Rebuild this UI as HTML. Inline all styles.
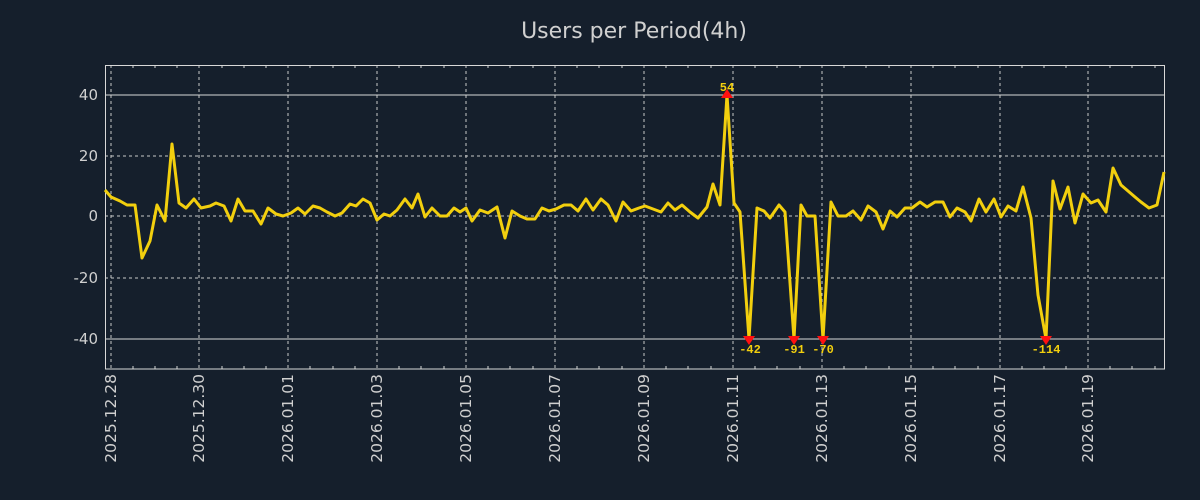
<!DOCTYPE html>
<html><head><meta charset="utf-8"><style>
html,body{margin:0;padding:0;background:#151f2c;}
svg{display:block}
</style></head><body>
<svg width="1200" height="500" xmlns="http://www.w3.org/2000/svg">
<rect width="1200" height="500" fill="#151f2c"/>
<text x="634" y="38" text-anchor="middle" font-family="DejaVu Sans, sans-serif" font-size="22" fill="#d0d0d0">Users per Period(4h)</text>
<g stroke="#c8c8c8" stroke-width="1" stroke-dasharray="3,3" fill="none">
<line x1="111" y1="65" x2="111" y2="369"/><line x1="199" y1="65" x2="199" y2="369"/><line x1="288" y1="65" x2="288" y2="369"/><line x1="377" y1="65" x2="377" y2="369"/><line x1="466" y1="65" x2="466" y2="369"/><line x1="555" y1="65" x2="555" y2="369"/><line x1="644" y1="65" x2="644" y2="369"/><line x1="733" y1="65" x2="733" y2="369"/><line x1="822" y1="65" x2="822" y2="369"/><line x1="911" y1="65" x2="911" y2="369"/><line x1="1000" y1="65" x2="1000" y2="369"/><line x1="1088" y1="65" x2="1088" y2="369"/>
<line x1="105" y1="156" x2="1164" y2="156"/><line x1="105" y1="216" x2="1164" y2="216"/><line x1="105" y1="278" x2="1164" y2="278"/>
</g>
<g stroke="#d8d8d8" stroke-width="1">
<line x1="105" y1="95" x2="1164" y2="95"/><line x1="105" y1="339" x2="1164" y2="339"/>
</g>
<g stroke="#d8d8d8" stroke-width="1" id="minor">
<path d="M133,369v-3M155,369v-3M177,369v-3M222,369v-3M244,369v-3M266,369v-3M310,369v-3M333,369v-3M355,369v-3M399,369v-3M421,369v-3M444,369v-3M488,369v-3M510,369v-3M533,369v-3M577,369v-3M599,369v-3M622,369v-3M666,369v-3M688,369v-3M711,369v-3M755,369v-3M777,369v-3M800,369v-3M844,369v-3M866,369v-3M889,369v-3M933,369v-3M955,369v-3M978,369v-3M1022,369v-3M1044,369v-3M1066,369v-3M1110,369v-3M1132,369v-3M1155,369v-3"/>
<path d="M133,65v3M155,65v3M177,65v3M222,65v3M244,65v3M266,65v3M310,65v3M333,65v3M355,65v3M399,65v3M421,65v3M444,65v3M488,65v3M510,65v3M533,65v3M577,65v3M599,65v3M622,65v3M666,65v3M688,65v3M711,65v3M755,65v3M777,65v3M800,65v3M844,65v3M866,65v3M889,65v3M933,65v3M955,65v3M978,65v3M1022,65v3M1044,65v3M1066,65v3M1110,65v3M1132,65v3M1155,65v3"/>
</g>
<rect x="105.5" y="65.5" width="1059" height="303.5" fill="none" stroke="#d8d8d8" stroke-width="1"/>
<g font-family="DejaVu Sans, sans-serif" font-size="15" fill="#d0d0d0" text-anchor="end">
<text x="98" y="100">40</text><text x="98" y="161">20</text><text x="98" y="221">0</text><text x="98" y="283">-20</text><text x="98" y="344">-40</text>
</g>
<g font-family="DejaVu Sans, sans-serif" font-size="15.5" fill="#d0d0d0" text-anchor="end">
<text transform="translate(116,374) rotate(-90)">2025.12.28</text>
<text transform="translate(204,374) rotate(-90)">2025.12.30</text>
<text transform="translate(293,374) rotate(-90)">2026.01.01</text>
<text transform="translate(382,374) rotate(-90)">2026.01.03</text>
<text transform="translate(471,374) rotate(-90)">2026.01.05</text>
<text transform="translate(560,374) rotate(-90)">2026.01.07</text>
<text transform="translate(649,374) rotate(-90)">2026.01.09</text>
<text transform="translate(738,374) rotate(-90)">2026.01.11</text>
<text transform="translate(827,374) rotate(-90)">2026.01.13</text>
<text transform="translate(916,374) rotate(-90)">2026.01.15</text>
<text transform="translate(1005,374) rotate(-90)">2026.01.17</text>
<text transform="translate(1093,374) rotate(-90)">2026.01.19</text>
</g>
<polyline fill="none" stroke="#f2cf0e" stroke-width="3" stroke-linejoin="round" points="105,190 111,197 120,201 127,205 135,205 142,258 150,241 157,205 165,221 172,144 179,203 186,208 194,199 201,208 210,206 216,203 224,206 231,221 238,199 245,211 253,211 261,224 268,208 276,214 283,216 291,213 298,208 305,214 313,206 320,208 327,212 335,216 342,213 350,204 356,206 363,199 370,203 377,220 384,214 390,216 397,210 405,199 412,208 418,194 425,217 432,208 440,216 447,216 454,208 460,212 466,208 472,221 480,210 488,213 497,207 505,238 512,211 520,216 527,219 535,219 542,208 549,211 556,209 564,205 571,205 578,211 586,199 593,210 601,199 608,205 616,221 623,202 631,211 639,208 645,206 653,209 661,212 668,203 675,210 682,205 690,212 698,218 707,207 713,184 720,205 727,95 734,203 740,212 749,339 757,208 764,211 770,218 779,205 785,212 794,339 801,205 807,216 815,216 823,339 831,202 838,216 846,216 853,211 861,220 868,206 876,212 883,229 890,211 897,217 905,208 912,208 920,202 927,207 935,202 943,202 950,217 957,208 965,212 971,221 979,199 986,212 994,199 1001,217 1008,206 1016,211 1023,187 1031,218 1038,295 1046,339 1053,181 1060,209 1068,187 1075,223 1083,194 1091,203 1098,200 1106,212 1113,168 1121,185 1128,191 1135,197 1141,202 1149,208 1157,205 1164,172"/>
<g fill="#ff1010">
<polygon points="721,98 733,98 727,89"/>
<polygon points="743,336 755,336 749,345"/>
<polygon points="788,336 800,336 794,345"/>
<polygon points="817,336 829,336 823,345"/>
<polygon points="1040,336 1052,336 1046,345"/>
</g>
<g font-family="Liberation Mono, monospace" font-weight="bold" font-size="12" fill="#f2cf0e" text-anchor="middle">
<text x="727" y="91">54</text>
<text x="750" y="353">-42</text>
<text x="794" y="353">-91</text>
<text x="823" y="353">-70</text>
<text x="1046" y="353">-114</text>
</g>
</svg>
</body></html>
